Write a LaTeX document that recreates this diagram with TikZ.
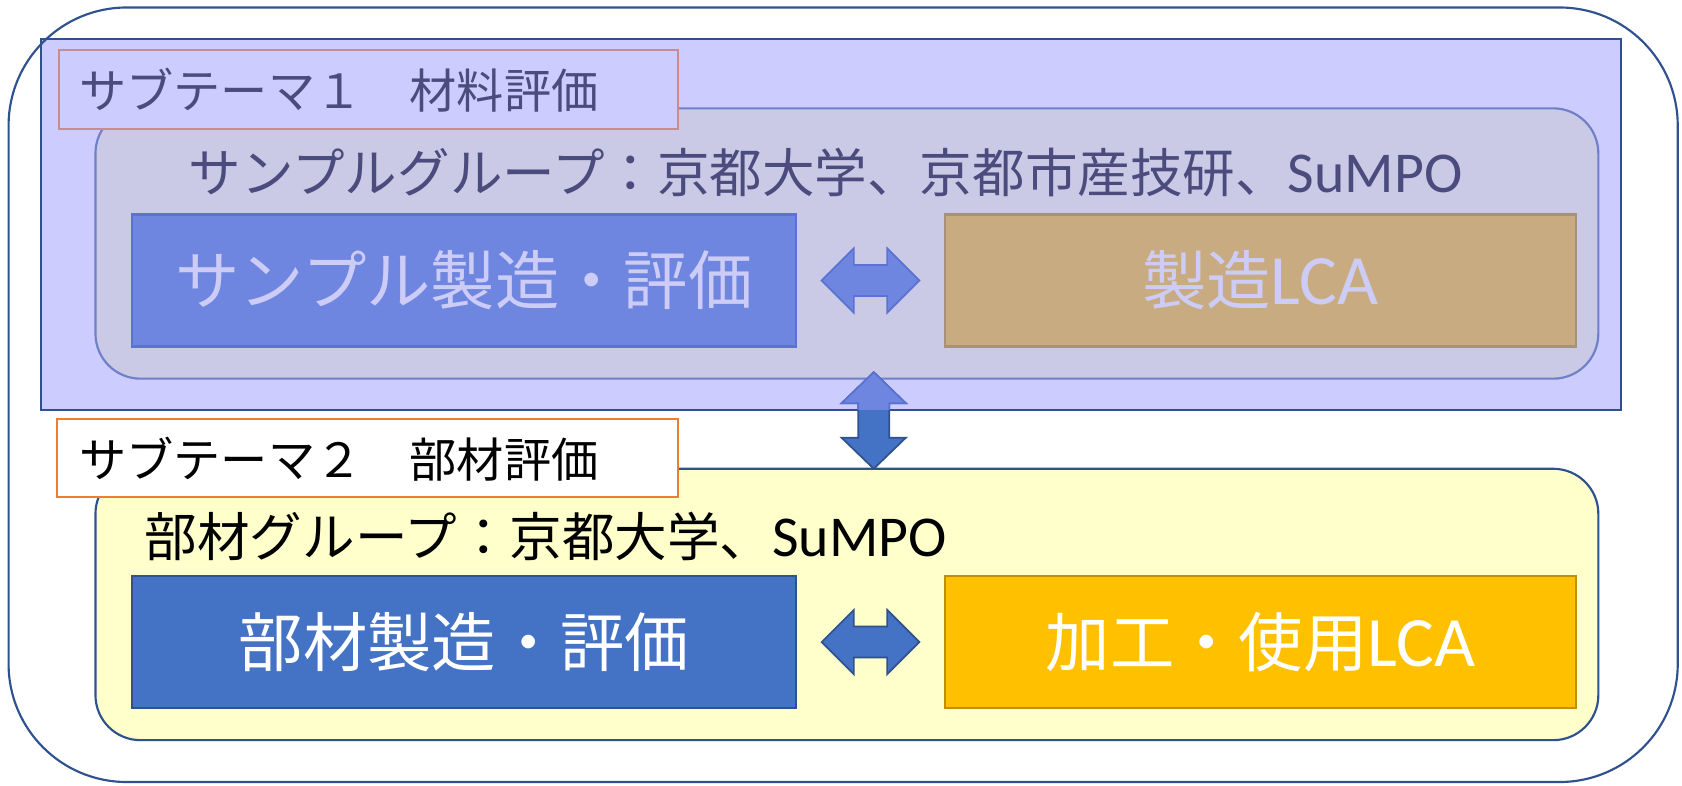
\documentclass[tikz,border=0pt]{standalone}
\usepackage{fontspec}
\newfontfamily\jp{Noto Sans CJK JP}
\newfontfamily\lat{Carlito}[Scale=1.1]
\usetikzlibrary{fit,calc}
\definecolor{frame}{HTML}{2F528F}
\definecolor{lav}{HTML}{CCCCFF}
\definecolor{innerAfill}{HTML}{CACAE6}
\definecolor{innerAline}{HTML}{6E80C8}
\definecolor{boxAfill}{HTML}{6F86E0}
\definecolor{boxAline}{HTML}{5A72D2}
\definecolor{tanfill}{HTML}{C9AB82}
\definecolor{tanline}{HTML}{A8917A}
\definecolor{paletxt}{HTML}{CCCCF6}
\definecolor{dimtxt}{HTML}{4B4B7E}
\definecolor{pinkline}{HTML}{C98A92}
\definecolor{orangeline}{HTML}{ED7D31}
\definecolor{yelfill}{HTML}{FFFFCC}
\definecolor{blueone}{HTML}{4472C4}
\definecolor{goldfill}{HTML}{FFC000}
\definecolor{goldline}{HTML}{BF9000}
\tikzset{
  every node/.style={inner sep=0pt, outer sep=0pt},
  themebox/.style={line width=1pt},
  labelfont/.style={font={\jp\fontsize{22}{26}\selectfont}},
  groupfont/.style={font={\jp\fontsize{24.5}{29}\selectfont}},
  boxfont/.style={font={\jp\fontsize{30}{36}\selectfont}},
  innerround/.style={rounded corners=21pt, line width=1pt},
  taskbox/.style={line width=1pt},
  arrowA/.style={fill=boxAfill, draw=boxAline, line width=0.8pt},
  arrowB/.style={fill=blueone, draw=frame, line width=0.8pt},
}
\begin{document}
\begin{tikzpicture}[x=0.5pt,y=-0.5pt]
\useasboundingbox (0,0) rectangle (1568,732);
\fill[white] (0,0) rectangle (1568,732);

% outer frame (fill only first)
\node[fit={(8,7) (1564,729)}, rounded corners=55pt, fill=white] (outer) {};

% sub-theme 1
\node[fit={(38,36) (1511,382)}, fill=lav, draw=frame, themebox] (sub1) {};
\node[fit={(89,101) (1490,353)}, innerround, fill=innerAfill, draw=innerAline] (inner1) {};
\node[fit={(55,47) (632,120)}, fill=lav, draw=pinkline, line width=1pt] (lab1) {};
\node[anchor=west, labelfont, text=dimtxt] (lab1t) at (74,84) {サブテーマ１　材料評価};
\node[anchor=west, groupfont, text=dimtxt] (grp1) at (176,161) {サンプルグループ：京都大学、京都市産技研、{\lat SuMPO}};
\node[fit={(123,200) (742,323)}, taskbox, fill=boxAfill, draw=boxAline] (boxA) {};
\node[boxfont, text=paletxt] (boxAt) at (boxA.center) {サンプル製造・評価};
\node[fit={(881,200) (1469,323)}, taskbox, fill=tanfill, draw=tanline] (boxB) {};
\node[boxfont, text=paletxt] (boxBt) at (boxB.center) {製造{\lat LCA}};

% sub-theme 2
\node[fit={(89,437) (1490,690)}, innerround, fill=yelfill, draw=frame] (inner2) {};
\node[fit={(53,391) (632,463)}, fill=white, draw=orangeline, line width=1pt] (lab2) {};
\node[anchor=west, labelfont, text=black] (lab2t) at (74,428) {サブテーマ２　部材評価};
\node[anchor=west, groupfont, text=black] (grp2) at (135,500) {部材グループ：京都大学、{\lat SuMPO}};
\node[fit={(123,537) (742,660)}, taskbox, fill=blueone, draw=frame] (boxC) {};
\node[boxfont, text=white] (boxCt) at (boxC.center) {部材製造・評価};
\node[fit={(881,537) (1469,660)}, taskbox, fill=goldfill, draw=goldline] (boxD) {};
\node[boxfont, text=white] (boxDt) at (boxD.center) {加工・使用{\lat LCA}};

% horizontal double arrows
\coordinate (h1L) at ($(boxA.east)+(24,0)$);
\coordinate (h1R) at ($(boxB.west)+(-24,0)$);
\draw[arrowA] (h1L) -- ++(30,-30) -- ++(0,15.5) -- ($(h1R)+(-30,-14.5)$) -- ++(0,-15.5) -- (h1R)
  -- ++(-30,30) -- ++(0,-15.5) -- ($(h1L)+(30,14.5)$) -- ++(0,15.5) -- cycle;
\coordinate (h2L) at ($(boxC.east)+(24,0)$);
\coordinate (h2R) at ($(boxD.west)+(-24,0)$);
\draw[arrowB] (h2L) -- ++(30,-30) -- ++(0,15.5) -- ($(h2R)+(-30,-14.5)$) -- ++(0,-15.5) -- (h2R)
  -- ++(-30,30) -- ++(0,-15.5) -- ($(h2L)+(30,14.5)$) -- ++(0,15.5) -- cycle;

% vertical double arrow between the two groups
\coordinate (vT) at (814.5,347);
\coordinate (vB) at (814.5,437);
\def\varrow{(vT) -- ++(30,29) -- ++(-15.5,0) -- ($(vB)+(14.5,-29)$) -- ++(15.5,0) -- (vB)
  -- ++(-30,-29) -- ++(15.5,0) -- ($(vT)+(-14.5,29)$) -- ++(-15.5,0) -- cycle}
\draw[arrowB] \varrow;
\begin{scope}
  \clip (sub1.north west) rectangle (sub1.south east);
  \draw[arrowA] \varrow;
\end{scope}

% outer frame outline on top
\draw[frame, line width=1pt, rounded corners=55pt] (outer.north west) rectangle (outer.south east);
\end{tikzpicture}
\end{document}
